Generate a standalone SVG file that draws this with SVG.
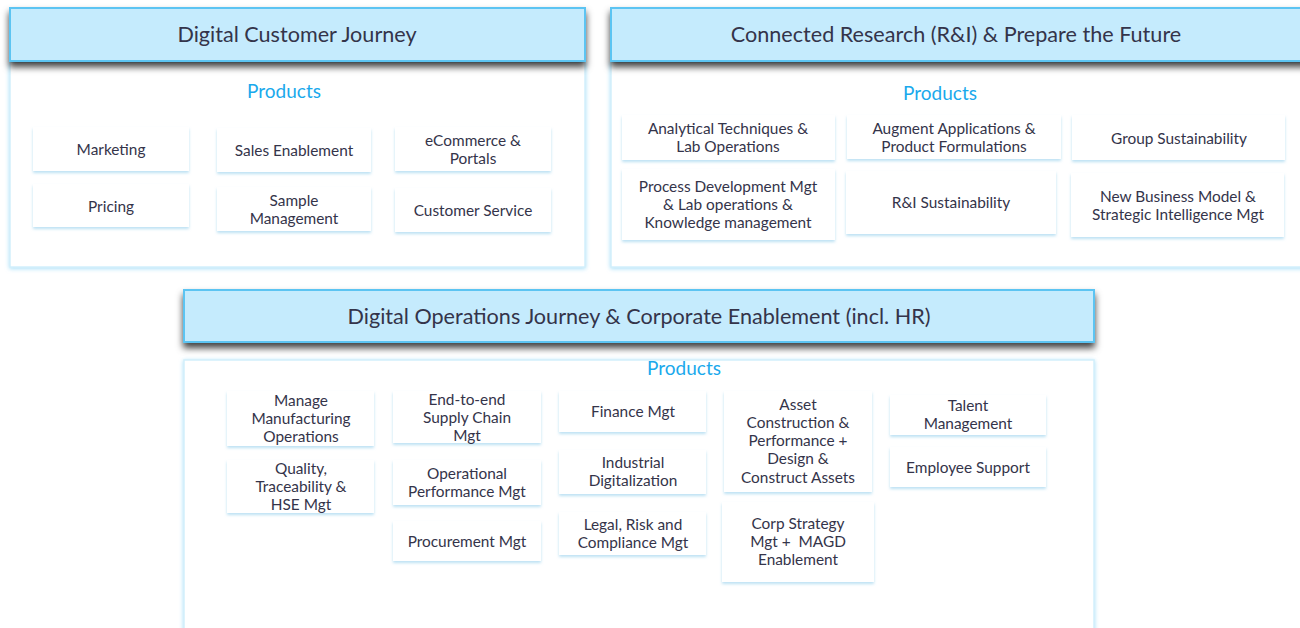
<svg xmlns="http://www.w3.org/2000/svg" width="1300" height="628" viewBox="0 0 1300 628">
<defs>
<filter id="hdrShadow" x="-5%" y="-30%" width="110%" height="180%">
<feGaussianBlur in="SourceAlpha" stdDeviation="3.5"/>
<feOffset dx="0" dy="5" result="b"/>
<feFlood flood-color="#000" flood-opacity="0.75"/>
<feComposite in2="b" operator="in"/>
<feMerge><feMergeNode/><feMergeNode in="SourceGraphic"/></feMerge>
</filter>
<filter id="bodyGlow" x="-5%" y="-5%" width="110%" height="110%">
<feGaussianBlur in="SourceAlpha" stdDeviation="2"/>
<feOffset dx="0" dy="1" result="b"/>
<feFlood flood-color="#7fd0f5" flood-opacity="0.7"/>
<feComposite in2="b" operator="in"/>
<feMerge><feMergeNode/><feMergeNode in="SourceGraphic"/></feMerge>
</filter>
<filter id="boxShadow" x="-10%" y="-20%" width="120%" height="150%">
<feGaussianBlur in="SourceAlpha" stdDeviation="1.8"/>
<feOffset dx="0" dy="2" result="b"/>
<feFlood flood-color="#9fd4ee" flood-opacity="0.7"/>
<feComposite in2="b" operator="in"/>
<feMerge><feMergeNode/><feMergeNode in="SourceGraphic"/></feMerge>
</filter>
</defs>
<style>
.hdr{fill:#c5ebfd;stroke:#5cc4f2;stroke-width:2;filter:url(#hdrShadow)}
.body{fill:#ffffff;stroke:#d2effc;stroke-width:1.5;filter:url(#bodyGlow)}
.box{fill:#ffffff;filter:url(#boxShadow)}
text{font-family:Lato,"Noto Sans","Liberation Sans",sans-serif;fill:#34344a;text-anchor:middle;white-space:pre}
.ht{font-size:21.6px}
.pt{font-size:19px;fill:#1aa9ec}
.bt{font-size:15.4px}
</style>
<rect width="1300" height="628" fill="#ffffff"/>

<g id="panel-dcj">
<rect class="body" x="10" y="62" width="575" height="205"/>
<rect class="hdr" x="10" y="8" width="575" height="53"/>
<text class="ht" x="297" y="42">Digital Customer Journey</text>
<text class="pt" x="284" y="98">Products</text>
</g>
<g id="n-marketing"><rect class="box" x="33" y="127" width="156" height="44"/><text class="bt" x="111" y="155">Marketing</text></g>
<g id="n-sales"><rect class="box" x="217" y="128" width="154" height="44"/><text class="bt" x="294" y="156">Sales Enablement</text></g>
<g id="n-ecommerce"><rect class="box" x="395" y="127" width="156" height="44"/><text class="bt" x="473" y="146">eCommerce &amp;</text><text class="bt" x="473" y="164">Portals</text></g>
<g id="n-pricing"><rect class="box" x="33" y="184" width="156" height="43"/><text class="bt" x="111" y="212">Pricing</text></g>
<g id="n-sample"><rect class="box" x="217" y="187" width="154" height="44"/><text class="bt" x="294" y="206">Sample</text><text class="bt" x="294" y="224">Management</text></g>
<g id="n-custservice"><rect class="box" x="395" y="188" width="156" height="44"/><text class="bt" x="473" y="216">Customer Service</text></g>

<g id="panel-cr">
<rect class="body" x="611" y="62" width="700" height="205"/>
<rect class="hdr" x="611" y="8" width="700" height="53"/>
<text class="ht" x="956" y="42">Connected Research (R&amp;I) &amp; Prepare the Future</text>
<text class="pt" x="940" y="100">Products</text>
</g>
<g id="n-analytical"><rect class="box" x="622" y="115" width="213" height="45"/><text class="bt" x="728" y="134">Analytical Techniques &amp;</text><text class="bt" x="728" y="152">Lab Operations</text></g>
<g id="n-augment"><rect class="box" x="847" y="115" width="214" height="44"/><text class="bt" x="954" y="134">Augment Applications &amp;</text><text class="bt" x="954" y="152">Product Formulations</text></g>
<g id="n-groupsust"><rect class="box" x="1072" y="115" width="213" height="45"/><text class="bt" x="1179" y="144">Group Sustainability</text></g>
<g id="n-processdev"><rect class="box" x="622" y="169" width="213" height="71"/><text class="bt" x="728" y="192">Process Development Mgt</text><text class="bt" x="728" y="210">&amp; Lab operations &amp;</text><text class="bt" x="728" y="228">Knowledge management</text></g>
<g id="n-risust"><rect class="box" x="846" y="171" width="210" height="63"/><text class="bt" x="951" y="208">R&amp;I Sustainability</text></g>
<g id="n-newbiz"><rect class="box" x="1071" y="173" width="213" height="64"/><text class="bt" x="1178" y="202">New Business Model &amp;</text><text class="bt" x="1178" y="220">Strategic Intelligence Mgt</text></g>

<g id="panel-doj">
<rect class="body" x="184" y="360" width="910" height="280"/>
<rect class="hdr" x="184" y="290" width="910" height="52"/>
<text class="ht" x="639" y="324">Digital Operations Journey &amp; Corporate Enablement (incl. HR)</text>
<text class="pt" x="684" y="375">Products</text>
</g>
<g id="n-manufacturing"><rect class="box" x="227" y="391" width="147" height="55"/><text class="bt" x="301" y="406">Manage</text><text class="bt" x="301" y="424">Manufacturing</text><text class="bt" x="301" y="442">Operations</text></g>
<g id="n-quality"><rect class="box" x="227" y="460" width="147" height="53"/><text class="bt" x="301" y="474">Quality,</text><text class="bt" x="301" y="492">Traceability &amp;</text><text class="bt" x="301" y="510">HSE Mgt</text></g>
<g id="n-supplychain"><rect class="box" x="393" y="391" width="148" height="52"/><text class="bt" x="467" y="405">End-to-end</text><text class="bt" x="467" y="423">Supply Chain</text><text class="bt" x="467" y="441">Mgt</text></g>
<g id="n-opperf"><rect class="box" x="393" y="460" width="148" height="45"/><text class="bt" x="467" y="479">Operational</text><text class="bt" x="467" y="497">Performance Mgt</text></g>
<g id="n-procurement"><rect class="box" x="393" y="521" width="148" height="40"/><text class="bt" x="467" y="547">Procurement Mgt</text></g>
<g id="n-finance"><rect class="box" x="559" y="391" width="147" height="41"/><text class="bt" x="633" y="417">Finance Mgt</text></g>
<g id="n-industrial"><rect class="box" x="559" y="450" width="147" height="44"/><text class="bt" x="633" y="468">Industrial</text><text class="bt" x="633" y="486">Digitalization</text></g>
<g id="n-legal"><rect class="box" x="559" y="512" width="147" height="43"/><text class="bt" x="633" y="530">Legal, Risk and</text><text class="bt" x="633" y="548">Compliance Mgt</text></g>
<g id="n-asset"><rect class="box" x="724" y="391" width="148" height="101"/><text class="bt" x="798" y="410">Asset</text><text class="bt" x="798" y="428">Construction &amp;</text><text class="bt" x="798" y="446">Performance +</text><text class="bt" x="798" y="464">Design &amp;</text><text class="bt" x="798" y="483">Construct Assets</text></g>
<g id="n-corpstrategy"><rect class="box" x="722" y="502" width="152" height="80"/><text class="bt" x="798" y="529">Corp Strategy</text><text class="bt" x="798" y="547">Mgt +  MAGD</text><text class="bt" x="798" y="565">Enablement</text></g>
<g id="n-talent"><rect class="box" x="890" y="395" width="156" height="40"/><text class="bt" x="968" y="411">Talent</text><text class="bt" x="968" y="429">Management</text></g>
<g id="n-employee"><rect class="box" x="890" y="447" width="156" height="40"/><text class="bt" x="968" y="473">Employee Support</text></g>
<g id="connectors"/>
</svg>
